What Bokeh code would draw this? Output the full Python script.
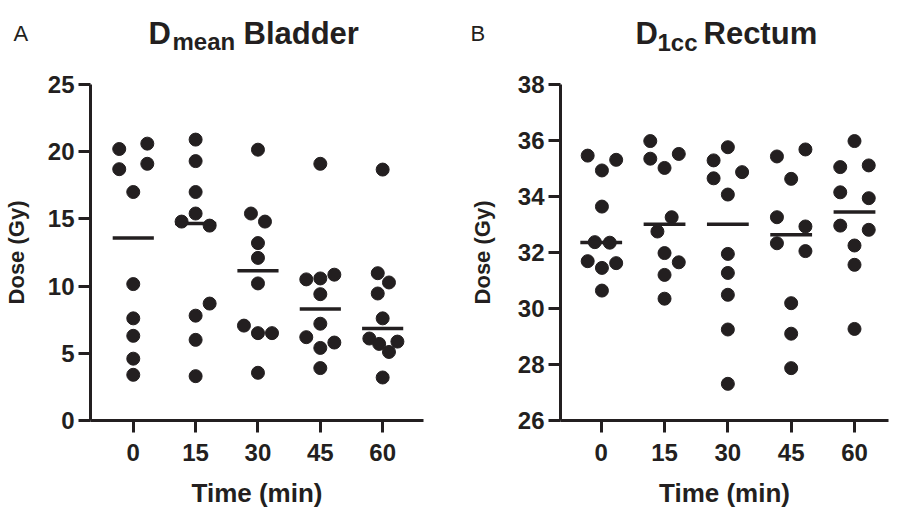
import numpy as np
from bokeh.plotting import figure
from bokeh.layouts import row, column
from bokeh.models import Range1d, FixedTicker, ColumnDataSource
from bokeh.core.properties import value
from bokeh.embed import file_html
from bokeh.resources import INLINE

# ---------------- data ----------------
time_labels = ["0", "15", "30", "45", "60"]

# Panel A: D_mean Bladder (Gy), ten patients per time point
bladder_t0 = [20.2, 20.6, 18.7, 19.1, 17.0, 10.15, 7.6, 6.3, 4.6, 3.4]
bladder_t15 = [20.9, 19.3, 17.0, 15.4, 14.8, 14.5, 8.7, 7.8, 6.0, 3.3]
bladder_t30 = [20.15, 15.4, 14.8, 13.2, 12.1, 10.2, 7.06, 6.5, 6.5, 3.55]
bladder_t45 = [19.1, 10.5, 10.57, 10.85, 9.4, 7.2, 6.2, 5.8, 5.4, 3.9]
bladder_t60 = [18.67, 10.96, 10.27, 9.45, 7.6, 6.1, 5.7, 5.87, 5.1, 3.2]

# swarm column of each point (beeswarm arrangement)
bladder_col_t0 = [-1, 1, -1, 1, 0, 0, 0, 0, 0, 0]
bladder_col_t15 = [0, 0, 0, 0, -1, 1, 1, 0, 0, 0]
bladder_col_t30 = [0, -0.5, 0.5, 0, 0, 0, -1, 0, 1, 0]
bladder_col_t45 = [0, -1, 0, 1, 0, 0, -1, 1, 0, 0]
bladder_col_t60 = [0, -0.35, 0.45, -0.35, 0, -0.95, -0.25, 1.05, 0.45, 0]

# Panel B: D_1cc Rectum (Gy)
rectum_t0 = [35.46, 35.31, 34.93, 33.64, 32.37, 32.35, 31.69, 31.45, 31.62, 30.64]
rectum_t15 = [35.98, 35.35, 35.52, 35.02, 33.26, 32.75, 31.98, 31.65, 31.2, 30.35]
rectum_t30 = [35.76, 35.29, 34.65, 34.87, 34.07, 31.95, 31.27, 30.49, 29.25, 27.31]
rectum_t45 = [35.43, 35.68, 34.63, 33.26, 32.93, 32.33, 32.05, 30.19, 29.1, 27.87]
rectum_t60 = [35.98, 35.05, 35.11, 34.15, 33.94, 32.96, 32.81, 32.25, 31.56, 29.27]

rectum_col_t0 = [-0.95, 1.05, 0.05, 0.05, -0.45, 0.6, -0.95, 0.05, 1.05, 0.05]
rectum_col_t15 = [-1, -1, 1, 0, 0.5, -0.5, 0, 1, 0, 0]
rectum_col_t30 = [0, -1, -1, 1, 0, 0, 0, 0, 0, 0]
rectum_col_t45 = [-1, 1, 0, -1, 1, -1, 1, 0, 0, 0]
rectum_col_t60 = [0, -1, 1, -1, 1, -1, 1, 0, 0, 0]

bladder_yticks = [0, 5, 10, 15, 20, 25]
rectum_yticks = [26, 28, 30, 32, 34, 36, 38]

INK = "#231f20"
FONT = "Liberation Sans"
COL_W = 0.225      # width of one swarm column in category units
HALF_BAR = 0.33    # half length of the median bar
TITLE_H = 62


def make_panel(width, groups, cols, yticks, x_range, y_range, borders, ylabel_standoff):
    bl, br, bt, bb = borders
    p = figure(width=width, height=512 - TITLE_H, output_backend="svg", toolbar_location=None,
               x_range=Range1d(*x_range), y_range=Range1d(*y_range),
               min_border_left=bl, min_border_right=br,
               min_border_top=bt, min_border_bottom=bb)
    p.outline_line_color = None
    p.grid.visible = False

    xs, ys, mx0, mx1, my = [], [], [], [], []
    for i, (vals, cl) in enumerate(zip(groups, cols)):
        for v, c in zip(vals, cl):
            xs.append(i + c * COL_W)
            ys.append(v)
        med = float(np.median(vals))
        mx0.append(i - HALF_BAR)
        mx1.append(i + HALF_BAR)
        my.append(med)

    p.scatter(x="x", y="y", source=ColumnDataSource(dict(x=xs, y=ys)),
              size=13, color=INK, line_color=INK)
    p.segment(x0="x0", y0="y", x1="x1", y1="y",
              source=ColumnDataSource(dict(x0=mx0, x1=mx1, y=my)),
              line_color=INK, line_width=3.5)

    for ax in (p.xaxis[0], p.yaxis[0]):
        ax.axis_line_width = 3
        ax.axis_line_color = INK
        ax.major_tick_line_width = 3
        ax.major_tick_line_color = INK
        ax.major_tick_out = 12
        ax.major_tick_in = 0
        ax.minor_tick_line_color = None
        ax.major_label_text_font = FONT
        ax.major_label_text_font_style = "bold"
        ax.major_label_text_font_size = "24px"
        ax.major_label_text_color = INK
        ax.axis_label_text_font = FONT
        ax.axis_label_text_font_style = "bold"
        ax.axis_label_text_color = INK

    p.xaxis.ticker = FixedTicker(ticks=list(range(len(time_labels))))
    p.xaxis.major_label_overrides = {i: t for i, t in enumerate(time_labels)}
    p.xaxis.axis_label = "Time (min)"
    p.xaxis.axis_label_text_font_size = "26px"
    p.xaxis.major_label_standoff = 11
    p.xaxis.axis_label_standoff = 14

    p.yaxis.ticker = FixedTicker(ticks=yticks)
    p.yaxis.axis_label = "Dose (Gy)"
    p.yaxis.axis_label_text_font_size = "22px"
    p.yaxis.major_label_standoff = 4
    p.yaxis.axis_label_standoff = ylabel_standoff
    return p


def make_title(width, x0, letter, main, sub, rest, pos):
    # pos: page x of letter, main, sub, rest anchors and baselines
    lx, mx, sx, rx, base, sub_base = pos
    t = figure(width=width, height=TITLE_H, output_backend="svg", toolbar_location=None,
               x_range=Range1d(x0, x0 + width), y_range=Range1d(TITLE_H, 0),
               min_border=0, x_axis_type=None, y_axis_type=None)
    t.outline_line_color = None
    t.grid.visible = False
    t.text(x=[lx], y=[base], text=[letter], text_font=value(FONT), text_font_size="22px",
           text_color=INK, text_baseline="alphabetic")
    t.text(x=[mx, rx], y=[base, base], text=[main, rest], text_font=value(FONT),
           text_font_style="bold", text_font_size="31px", text_color=INK,
           text_baseline="alphabetic")
    t.text(x=[sx], y=[sub_base], text=[sub], text_font=value(FONT), text_font_style="bold",
           text_font_size="24px", text_color=INK, text_baseline="alphabetic")
    return t


t1 = make_title(452, 0, "A", "D", "mean", "Bladder", (13, 148, 172, 243, 33, 41))
t2 = make_title(452, 452, "B", "D", "1cc", "Rectum", (470, 635, 657, 703, 33, 42))

p1 = make_panel(452,
                [bladder_t0, bladder_t15, bladder_t30, bladder_t45, bladder_t60],
                [bladder_col_t0, bladder_col_t15, bladder_col_t30, bladder_col_t45, bladder_col_t60],
                bladder_yticks, (-0.686, 4.655), (0, 25), (86, 29, 84 - TITLE_H, 90), 16)

p2 = make_panel(452,
                [rectum_t0, rectum_t15, rectum_t30, rectum_t45, rectum_t60],
                [rectum_col_t0, rectum_col_t15, rectum_col_t30, rectum_col_t45, rectum_col_t60],
                rectum_yticks, (-0.643, 4.537), (26, 38), (108, 16, 84 - TITLE_H, 92), 20)

layout = column(row(t1, t2), row(p1, p2))
open("out.html", "w").write(file_html(layout, INLINE))
